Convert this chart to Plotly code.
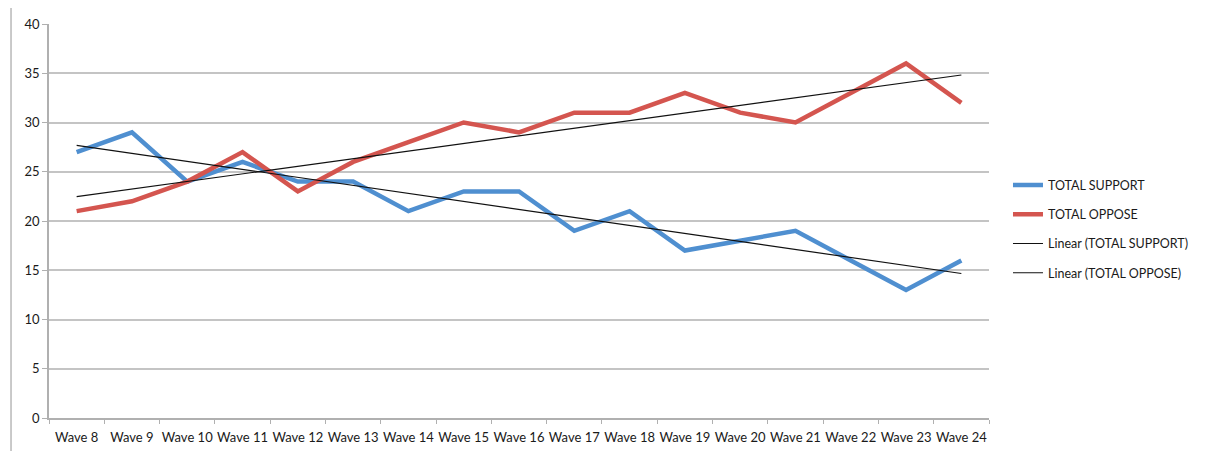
import numpy as np
import plotly.graph_objects as go

waves = ["Wave 8", "Wave 9", "Wave 10", "Wave 11", "Wave 12", "Wave 13", "Wave 14", "Wave 15",
         "Wave 16", "Wave 17", "Wave 18", "Wave 19", "Wave 20", "Wave 21", "Wave 22", "Wave 23", "Wave 24"]
total_support = [27, 29, 24, 26, 24, 24, 21, 23, 23, 19, 21, 17, 18, 19, 16, 13, 16]
total_oppose = [21, 22, 24, 27, 23, 26, 28, 30, 29, 31, 31, 33, 31, 30, 33, 36, 32]

idx = np.arange(len(waves))
sup_fit = np.polyval(np.polyfit(idx, total_support, 1), idx)
opp_fit = np.polyval(np.polyfit(idx, total_oppose, 1), idx)

FONT = "Lato, Liberation Sans, sans-serif"

fig = go.Figure()
fig.add_trace(go.Scatter(x=waves, y=total_support, mode="lines", name="TOTAL SUPPORT",
                         line=dict(color="#4f8fd0", width=4.5), legendgroup="a"))
fig.add_trace(go.Scatter(x=waves, y=total_oppose, mode="lines", name="TOTAL OPPOSE",
                         line=dict(color="#d4554f", width=4.5), legendgroup="b"))
fig.add_trace(go.Scatter(x=waves, y=sup_fit, mode="lines", name="Linear (TOTAL SUPPORT)",
                         line=dict(color="#111111", width=1.2), legendgroup="c"))
fig.add_trace(go.Scatter(x=waves, y=opp_fit, mode="lines", name="Linear (TOTAL OPPOSE)",
                         line=dict(color="#111111", width=1.2), legendgroup="d"))

fig.update_layout(
    width=1205, height=452,
    margin=dict(l=41, r=224, t=16, b=42),
    paper_bgcolor="white", plot_bgcolor="white",
    font=dict(family=FONT, size=12, color="#1a1a1a"),
    showlegend=True,
    legend=dict(x=1.0202, y=0.48, xanchor="left", yanchor="middle",
                font=dict(family=FONT, size=12.5, color="#1a1a1a"),
                tracegroupgap=10, itemwidth=30),
    xaxis=dict(type="category", showgrid=False, showline=True, linecolor="#b0b0b0", linewidth=1.5,
               ticks="outside", tickson="boundaries", ticklen=4, tickcolor="#b0b0b0",
               tickangle=0, automargin=False, ticklabelstandoff=7,
               tickfont=dict(family=FONT, size=13, color="#1a1a1a"), range=[-0.5, 16.5]),
    yaxis=dict(range=[0, 40], dtick=5, showgrid=True, gridcolor="#c4c4c4", gridwidth=1.5,
               showline=True, linecolor="#b0b0b0", linewidth=1.5, ticks="outside", ticklen=5,
               tickcolor="#b0b0b0", zeroline=False, automargin=False,
               tickfont=dict(family=FONT, size=13, color="#1a1a1a")),
    shapes=[dict(type="line", xref="paper", yref="paper", x0=-0.0404, x1=-0.0404,
                 y0=-0.084, y1=1.046, line=dict(color="#b8b8b8", width=1.5))],
)

fig.write_html("out.html")
